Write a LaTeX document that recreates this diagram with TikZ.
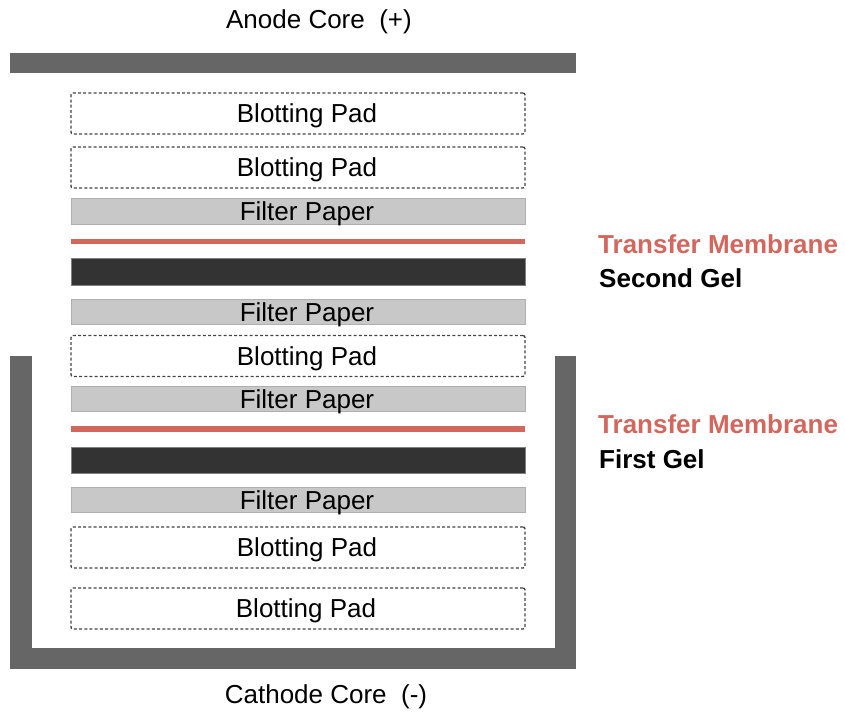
\documentclass[tikz,border=0pt]{standalone}
\usepackage{fontspec}
\setmainfont{Liberation Sans}
\definecolor{coregray}{HTML}{666666}
\definecolor{filtergray}{HTML}{C8C8C8}
\definecolor{filteredge}{HTML}{AFAFAF}
\definecolor{gelblack}{HTML}{333333}
\definecolor{memred}{HTML}{D2675E}
\definecolor{dashgray}{HTML}{444444}
\begin{document}
\begin{tikzpicture}[x=1pt,y=-1pt,
  font=\fontsize{26}{30}\selectfont,
  core/.style={fill=coregray,draw=none},
  layer/.style={minimum width=454pt,inner sep=0pt,anchor=center},
  padbox/.style={layer,draw=dashgray,line width=1.4pt,dash pattern=on 3pt off 2.2pt,rounded corners=2pt,minimum height=41pt},
  filterbox/.style={layer,fill=filtergray,draw=filteredge,line width=0.6pt,minimum height=25.5pt},
  membrane/.style={layer,fill=memred,draw=none,minimum height=5.5pt},
  gelbox/.style={layer,fill=gelblack,draw=gray,line width=0.5pt,minimum height=26.5pt},
  layertext/.style={inner sep=0pt,text height=18.6pt,text depth=0pt,anchor=center},
  sidelabel/.style={anchor=base west,inner sep=0pt,font=\fontsize{26}{30}\selectfont\bfseries},
  corelabel/.style={anchor=base,inner sep=0pt}
]
\useasboundingbox (0,0) rectangle (845,713);
% anode
\node[corelabel] (anodelbl) at (319,28) {Anode Core\ \ (+)};
\path[core] (10,53) rectangle (576,73);
% cathode U
\path[core] (10,356) rectangle (32,669);
\path[core] (555,356) rectangle (576,669);
\path[core] (10,648) rectangle (576,669);
\node[corelabel] (cathodelbl) at (326,703) {Cathode Core\ \ (-)};
% stack
\node[padbox] (pad1) at (298,113.5) {};
\node[padbox] (pad2) at (298,167.5) {};
\node[filterbox] (fp1) at (298,211.5) {};
\node[membrane] (mem2) at (298,241.5) {};
\node[gelbox] (gel2) at (298,271.5) {};
\node[filterbox] (fp2) at (298,312) {};
\node[padbox] (pad3) at (298,356) {};
\node[filterbox] (fp3) at (298,399) {};
\node[membrane] (mem1) at (298,429) {};
\node[gelbox] (gel1) at (298,460) {};
\node[filterbox] (fp4) at (298,500) {};
\node[padbox] (pad4) at (298,547.5) {};
\node[padbox] (pad5) at (298,608.5) {};
% layer texts
\node[layertext] (pad1t) at ([xshift=9pt]pad1.center) {Blotting Pad};
\node[layertext] (pad2t) at ([xshift=9pt]pad2.center) {Blotting Pad};
\node[layertext] (fp1t) at ([xshift=9pt]fp1.center) {Filter Paper};
\node[layertext] (fp2t) at ([xshift=9pt]fp2.center) {Filter Paper};
\node[layertext] (pad3t) at ([xshift=9pt]pad3.center) {Blotting Pad};
\node[layertext] (fp3t) at ([xshift=9pt]fp3.center) {Filter Paper};
\node[layertext] (fp4t) at ([xshift=9pt]fp4.center) {Filter Paper};
\node[layertext] (pad4t) at ([xshift=9pt]pad4.center) {Blotting Pad};
\node[layertext] (pad5t) at ([xshift=8pt]pad5.center) {Blotting Pad};
% side labels
\node[sidelabel,text=memred] (tm2) at (598,253) {Transfer Membrane};
\node[sidelabel] (sg) at (599,287) {Second Gel};
\node[sidelabel,text=memred] (tm1) at (598,433) {Transfer Membrane};
\node[sidelabel] (fg) at (599,468) {First Gel};
\end{tikzpicture}
\end{document}
